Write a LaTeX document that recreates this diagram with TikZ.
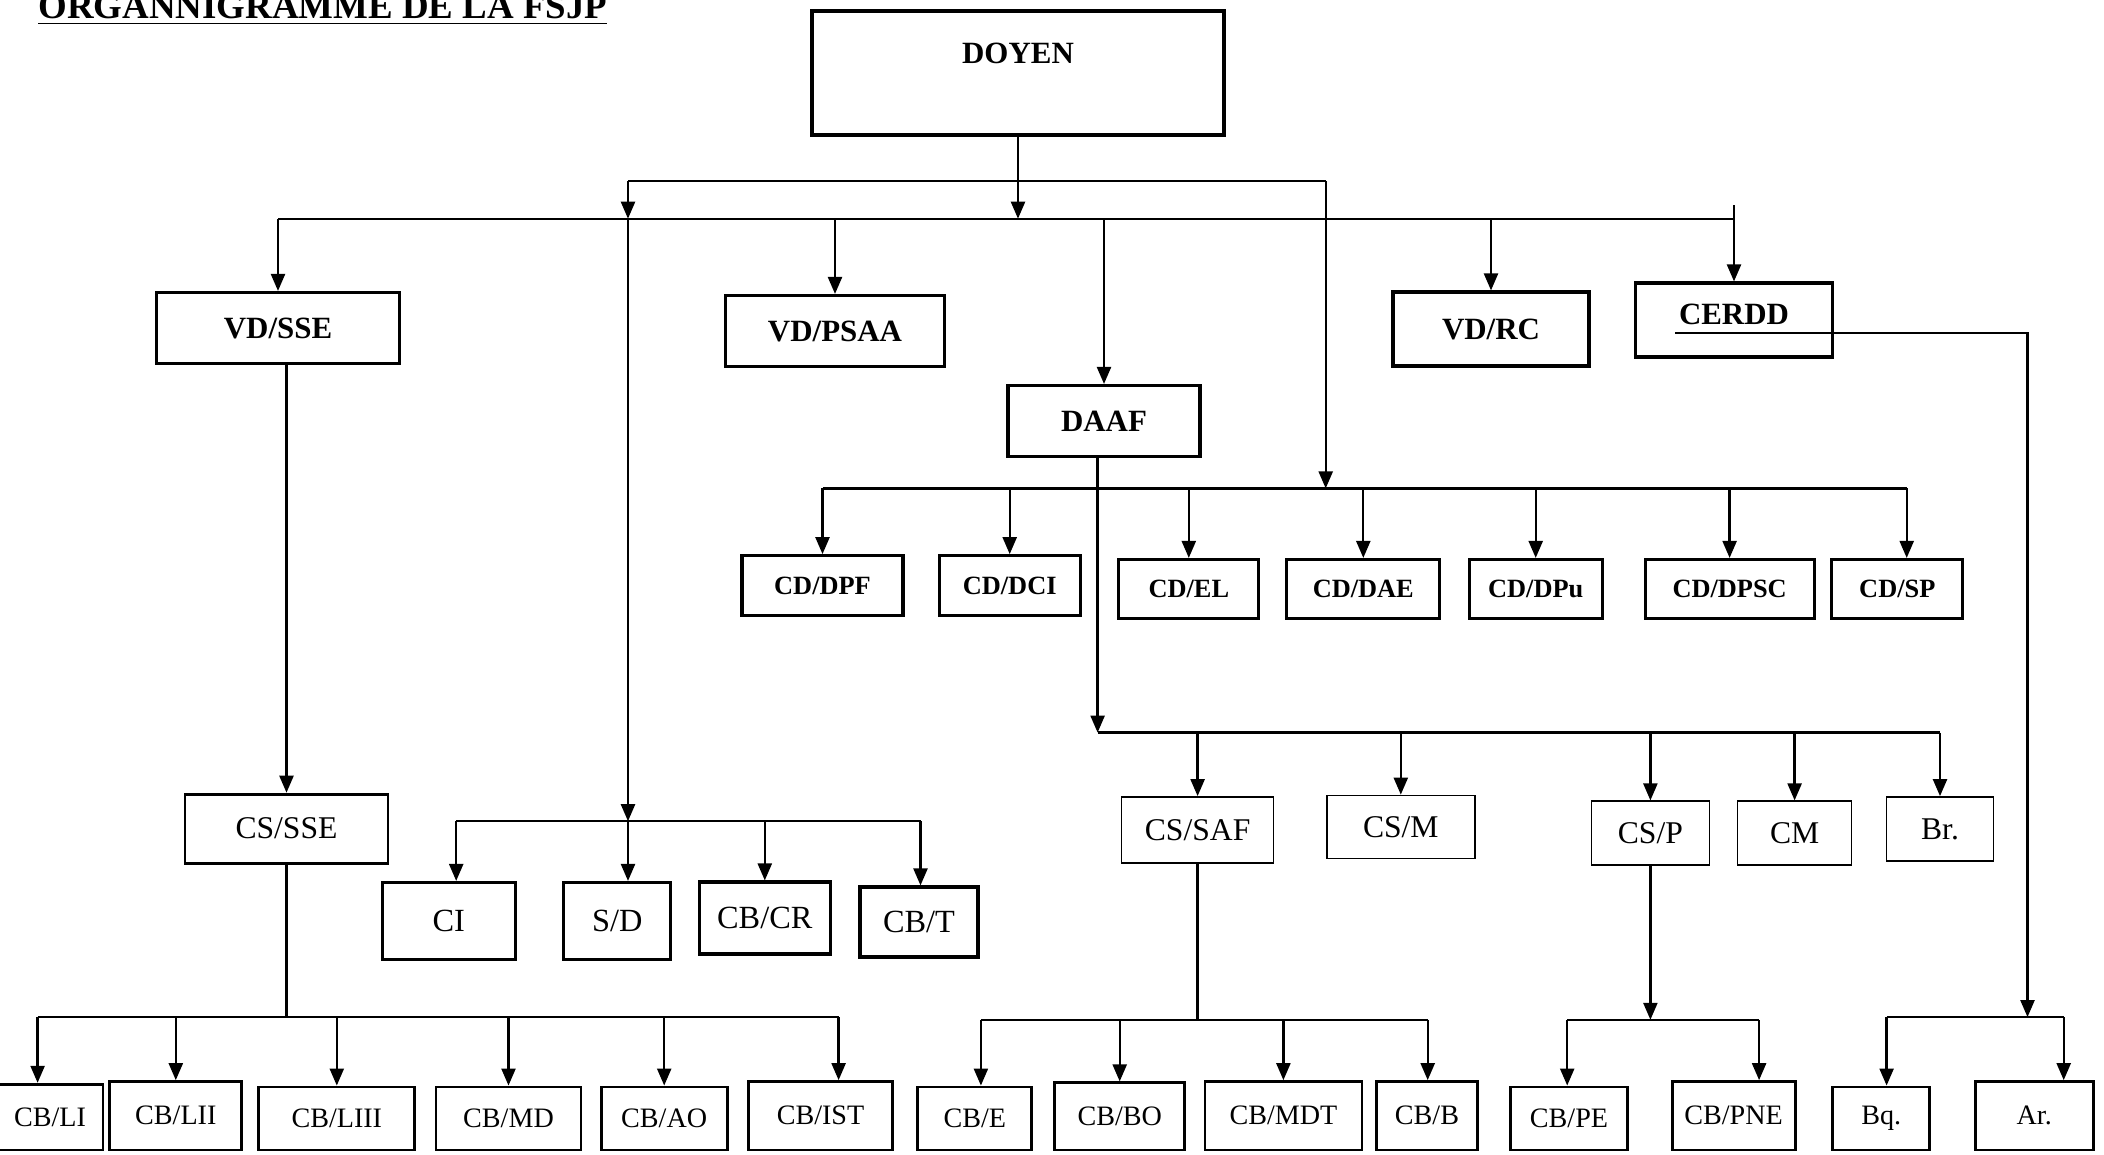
\documentclass[tikz,border=0pt]{standalone}
\usepackage{fontspec}
\setmainfont{Liberation Serif}
\usetikzlibrary{arrows.meta, calc}
\tikzset{
    my-box/.style={
        draw, line width=0.8pt, inner sep=0pt, font=\fontsize{8}{10}\selectfont
    },
    my-head-box/.style={
        my-box, line width=0.9pt, font=\fontsize{8.8}{10}\selectfont\bfseries
    },
    my-cd-box/.style={
        my-box, line width=0.9pt, font=\fontsize{7.5}{9}\selectfont\bfseries
    },
    my-service-box/.style={
        my-box, line width=0.5pt, font=\fontsize{9}{11}\selectfont
    },
    my-office-box/.style={
        my-box, line width=0.9pt, font=\fontsize{9.2}{11}\selectfont
    },
    my-size/.style 2 args={
        minimum width=#1cm, minimum height=#2cm
    },
    my-wire/.style={
        line width=0.65pt
    },
    my-arrow/.style={
        my-wire, -{Triangle[length=1.7mm, width=1.4mm]}
    },
}

\begin{document}
\begin{tikzpicture}[label distance=2mm]

        \useasboundingbox (0,0) rectangle (21.04,-11.54);

        % TITLE
        \node[anchor=base west, inner sep=0pt, font=\fontsize{10.5}{12}\selectfont\bfseries] (TITRE) at (0.376,-0.18) {\underline{ORGANNIGRAMME DE LA FSJP}};

        % DOYEN
        \node[my-head-box, line width=1.4pt, minimum width=4.12cm, text height=0.52cm, text depth=0.72cm] (DOYEN) at (10.18,-0.73) {DOYEN};

        % VICE-DOYENS, CERDD, DAAF
        \node[my-head-box, my-size={2.43}{0.71}] (VDSSE)  at (2.78,-3.28)  {VD/SSE};
        \node[my-head-box, my-size={2.19}{0.71}] (VDPSAA) at (8.35,-3.31)  {VD/PSAA};
        \node[my-head-box, my-size={1.96}{0.74}] (VDRC)   at (14.91,-3.29) {VD/RC};
        \node[my-head-box, minimum width=1.97cm, text height=0.41cm, text depth=0.33cm] (CERDD) at (17.34,-3.20) {CERDD};
        \node[my-head-box, my-size={1.92}{0.71}] (DAAF)   at (11.04,-4.21) {DAAF};

        % BUS CONNECTOR POINTS
        \coordinate (TOPBUSL)   at (6.28,-1.811);
        \coordinate (TOPBUSR)   at (13.257,-1.811);
        \coordinate (MAINBUSL)  at (2.78,-2.187);
        \coordinate (MAINBUSR)  at (17.34,-2.187);
        \coordinate (CERDDIN)   at (17.34,-2.05);
        \coordinate (CDBUSL)    at (8.225,-4.884);
        \coordinate (CDBUSR)    at (19.067,-4.884);

        % TOP CONNECTIONS
        \draw[my-wire]  (TOPBUSL) -- (TOPBUSR);
        \draw[my-wire]  (MAINBUSL) -- (MAINBUSR);
        \draw[my-arrow] (DOYEN.south) -- (DOYEN.south |- MAINBUSL);
        \draw[my-arrow] (TOPBUSL) -- (TOPBUSL |- MAINBUSL);
        \draw[my-arrow] (TOPBUSR) -- (TOPBUSR |- CDBUSL);
        \draw[my-arrow] (VDSSE |- MAINBUSL)  -- (VDSSE);
        \draw[my-arrow] (VDPSAA |- MAINBUSL) -- (VDPSAA);
        \draw[my-arrow] (DAAF |- MAINBUSL)   -- (DAAF);
        \draw[my-arrow] (VDRC |- MAINBUSL)   -- (VDRC);
        \draw[my-arrow] (CERDDIN) -- (CERDD);

        % CD, WIRES
        \node[my-cd-box, my-size={1.61}{0.60}] (CDDPF)  at (8.225,-5.857)  {CD/DPF};
        \node[my-cd-box, my-size={1.41}{0.60}] (CDDCI)  at (10.097,-5.857) {CD/DCI};
        \node[my-cd-box, my-size={1.40}{0.59}] (CDEL)   at (11.888,-5.89)  {CD/EL};
        \node[my-cd-box, my-size={1.53}{0.59}] (CDDAE)  at (13.633,-5.89)  {CD/DAE};
        \node[my-cd-box, my-size={1.33}{0.59}] (CDDPU)  at (15.357,-5.89)  {CD/DPu};
        \node[my-cd-box, my-size={1.69}{0.59}] (CDDPSC) at (17.296,-5.89)  {CD/DPSC};
        \node[my-cd-box, my-size={1.31}{0.59}] (CDSP)   at (18.973,-5.89)  {CD/SP};

        \draw[my-wire]  (CDBUSL) -- (CDBUSR);
        \draw[my-arrow] (CDBUSL) -- (CDBUSL |- CDDPF.north);
        \draw[my-arrow] (CDDCI |- CDBUSL)  -- (CDDCI);
        \draw[my-arrow] (CDEL |- CDBUSL)   -- (CDEL);
        \draw[my-arrow] (CDDAE |- CDBUSL)  -- (CDDAE);
        \draw[my-arrow] (CDDPU |- CDBUSL)  -- (CDDPU);
        \draw[my-arrow] (CDDPSC |- CDBUSL) -- (CDDPSC);
        \draw[my-arrow] (CDBUSR) -- (CDBUSR |- CDSP.north);

        % DAAF SERVICES
        \coordinate (DAAFBUSL) at (10.976,-7.326);
        \coordinate (DAAFBUSR) at (19.40,-7.326);
        \node[my-service-box, my-size={1.52}{0.66}] (CSSAF) at (11.976,-8.30) {CS/SAF};
        \node[my-service-box, my-size={1.48}{0.63}] (CSM)   at (14.008,-8.27) {CS/M};
        \node[my-service-box, my-size={1.18}{0.64}] (CSP)   at (16.504,-8.333) {CS/P};
        \node[my-service-box, my-size={1.14}{0.64}] (CM)    at (17.946,-8.333) {CM};
        \node[my-service-box, my-size={1.07}{0.64}] (BR)    at (19.40,-8.29) {Br.};

        \draw[my-arrow] (DAAF.south -| DAAFBUSL) -- (DAAFBUSL);
        \draw[my-wire]  (DAAFBUSL) -- (DAAFBUSR);
        \draw[my-arrow] (CSSAF |- DAAFBUSL) -- (CSSAF);
        \draw[my-arrow] (CSM |- DAAFBUSL)   -- (CSM);
        \draw[my-arrow] (CSP |- DAAFBUSL)   -- (CSP);
        \draw[my-arrow] (CM |- DAAFBUSL)    -- (CM);
        \draw[my-arrow] (DAAFBUSR) -- (BR);

        % VD/SSE SERVICE
        \node[my-service-box, line width=0.8pt, my-size={2.03}{0.69}] (CSSSE) at (2.865,-8.286) {CS/SSE};
        \draw[my-arrow] (CSSSE |- VDSSE.south) -- (CSSSE);

        % S/D BRANCH
        \coordinate (SDBUSL) at (4.562,-8.212);
        \coordinate (SDBUSR) at (9.205,-8.212);
        \node[my-office-box, my-size={1.33}{0.77}] (CI)   at (4.488,-9.21) {CI};
        \node[my-office-box, my-size={1.07}{0.77}] (SD)   at (6.172,-9.21) {S/D};
        \node[my-office-box, my-size={1.31}{0.72}] (CBCR) at (7.648,-9.18) {CB/CR};
        \node[my-office-box, my-size={1.18}{0.70}] (CBT)  at (9.19,-9.22)  {CB/T};

        \draw[my-arrow] (TOPBUSL |- MAINBUSL) -- (TOPBUSL |- SDBUSL);
        \draw[my-wire]  (SDBUSL) -- (SDBUSR);
        \draw[my-arrow] (SDBUSL) -- (SDBUSL |- CI.north);
        \draw[my-arrow] (TOPBUSL |- SDBUSL) -- (TOPBUSL |- SD.north);
        \draw[my-arrow] (CBCR |- SDBUSL) -- (CBCR);
        \draw[my-arrow] (SDBUSR) -- (SDBUSR |- CBT.north);

        % BOTTOM ROW, CS/SSE
        \coordinate (SSEBUSL) at (0.376,-10.171);
        \coordinate (SSEBUSR) at (8.386,-10.171);
        \node[my-box, my-size={1.06}{0.658}] (CBLI)   at (0.50,-11.171)  {CB/LI};
        \node[my-box, my-size={1.32}{0.685}] (CBLII)  at (1.758,-11.158) {CB/LII};
        \node[my-box, my-size={1.56}{0.631}] (CBLIII) at (3.368,-11.185) {CB/LIII};
        \node[my-box, my-size={1.45}{0.631}] (CBMD)   at (5.085,-11.185) {CB/MD};
        \node[my-box, my-size={1.26}{0.631}] (CBAO)   at (6.642,-11.185) {CB/AO};
        \node[my-box, my-size={1.44}{0.685}] (CBIST)  at (8.205,-11.158) {CB/IST};

        \draw[my-wire]  (CSSSE) -- (CSSSE |- SSEBUSL);
        \draw[my-wire]  (SSEBUSL) -- (SSEBUSR);
        \draw[my-arrow] (SSEBUSL) -- (SSEBUSL |- CBLI.north);
        \draw[my-arrow] (CBLII |- SSEBUSL)  -- (CBLII);
        \draw[my-arrow] (CBLIII |- SSEBUSL) -- (CBLIII);
        \draw[my-arrow] (CBMD |- SSEBUSL)   -- (CBMD);
        \draw[my-arrow] (CBAO |- SSEBUSL)   -- (CBAO);
        \draw[my-arrow] (SSEBUSR) -- (SSEBUSR |- CBIST.north);

        % BOTTOM ROW, CS/SAF
        \coordinate (SAFBUSL) at (9.809,-10.198);
        \coordinate (SAFBUSR) at (14.277,-10.198);
        \node[my-box, my-size={1.14}{0.631}] (CBE)   at (9.748,-11.185)  {CB/E};
        \node[my-box, my-size={1.30}{0.672}] (CBBO)  at (11.197,-11.164) {CB/BO};
        \node[my-box, my-size={1.57}{0.685}] (CBMDT) at (12.834,-11.158) {CB/MDT};
        \node[my-box, my-size={1.01}{0.685}] (CBB)   at (14.27,-11.158)  {CB/B};

        \draw[my-wire]  (CSSAF) -- (CSSAF |- SAFBUSL);
        \draw[my-wire]  (SAFBUSL) -- (SAFBUSR);
        \draw[my-arrow] (SAFBUSL) -- (SAFBUSL |- CBE.north);
        \draw[my-arrow] (CBBO |- SAFBUSL)  -- (CBBO);
        \draw[my-arrow] (CBMDT |- SAFBUSL) -- (CBMDT);
        \draw[my-arrow] (SAFBUSR) -- (SAFBUSR |- CBB.north);

        % BOTTOM ROW, CS/P
        \coordinate (PBUSL) at (15.672,-10.198);
        \coordinate (PBUSR) at (17.591,-10.198);
        \node[my-box, my-size={1.17}{0.631}] (CBPE)  at (15.69,-11.185)  {CB/PE};
        \node[my-box, my-size={1.23}{0.685}] (CBPNE) at (17.336,-11.158) {CB/PNE};

        \draw[my-arrow] (CSP) -- (CSP |- PBUSL);
        \draw[my-wire]  (PBUSL) -- (PBUSR);
        \draw[my-arrow] (PBUSL) -- (PBUSL |- CBPE.north);
        \draw[my-arrow] (PBUSR) -- (PBUSR |- CBPNE.north);

        % BOTTOM ROW, CERDD
        \coordinate (CERDDOUT)  at (16.75,-3.33);
        \coordinate (CERDDBUSL) at (18.866,-10.171);
        \coordinate (CERDDBUSM) at (20.275,-10.171);
        \coordinate (CERDDBUSR) at (20.637,-10.171);
        \node[my-box, my-size={0.97}{0.631}] (BQ) at (18.812,-11.185) {Bq.};
        \node[my-box, my-size={1.18}{0.685}] (AR) at (20.342,-11.158) {Ar.};

        \draw[my-arrow] (CERDDOUT) -| (CERDDBUSM);
        \draw[my-wire]  (CERDDBUSL) -- (CERDDBUSR);
        \draw[my-arrow] (CERDDBUSL) -- (CERDDBUSL |- BQ.north);
        \draw[my-arrow] (CERDDBUSR) -- (CERDDBUSR |- AR.north);

\end{tikzpicture}
\end{document}
